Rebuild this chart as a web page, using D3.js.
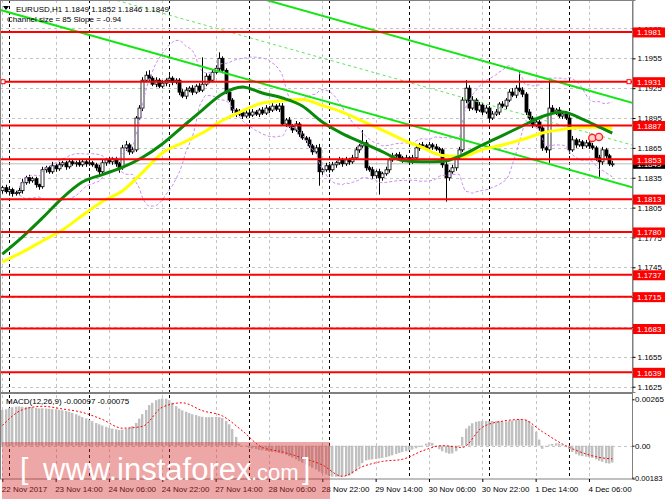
<!DOCTYPE html>
<html>
<head>
<meta charset="utf-8">
<script src="https://cdn.jsdelivr.net/npm/d3@7"></script>
<style>
  body { margin: 0; background: #fff; }
  svg { display: block; }
  text { font-family: "Liberation Sans", Arial, sans-serif; }
</style>
</head>
<body>
<svg id="chart" width="665" height="499"></svg>
<script>
// EURUSD H1, 22 Nov 2017 22:00 .. 4 Dec 2017 13:00 (184 bars)
const firstOpen = 1.1822;
const closes = [
  1.1825, 1.1821, 1.1823, 1.1819, 1.1820, 1.1822, 1.1830, 1.1835, 1.1832, 1.1834,
  1.1828, 1.1826, 1.1843, 1.1845, 1.1841, 1.1847, 1.1844, 1.1848, 1.1850, 1.1846,
  1.1851, 1.1849, 1.1850, 1.1848, 1.1851, 1.1849, 1.1850, 1.1848, 1.1845, 1.1841,
  1.1850, 1.1853, 1.1851, 1.1854, 1.1849, 1.1845, 1.1865, 1.1868, 1.1861, 1.1863,
  1.1895, 1.1905, 1.1933, 1.1938, 1.1935, 1.1929, 1.1933, 1.1927, 1.1930, 1.1933,
  1.1935, 1.1931, 1.1933, 1.1921, 1.1917, 1.1923, 1.1925, 1.1921, 1.1927, 1.1923,
  1.1929, 1.1937, 1.1933, 1.1941, 1.1945, 1.1955, 1.1943, 1.1921, 1.1913, 1.1903,
  1.1899, 1.1901, 1.1897, 1.1900, 1.1898, 1.1901, 1.1899, 1.1903, 1.1900, 1.1905,
  1.1903, 1.1907, 1.1904, 1.1907, 1.1889, 1.1893, 1.1887, 1.1883, 1.1889, 1.1879,
  1.1875, 1.1873, 1.1867, 1.1861, 1.1865, 1.1841, 1.1843, 1.1847, 1.1843, 1.1848,
  1.1850, 1.1853, 1.1849, 1.1853, 1.1851, 1.1855, 1.1863, 1.1867, 1.1870, 1.1845,
  1.1843, 1.1837, 1.1841, 1.1835, 1.1839, 1.1843, 1.1853, 1.1857, 1.1858, 1.1855,
  1.1853, 1.1855, 1.1851, 1.1855, 1.1865, 1.1868, 1.1867, 1.1865, 1.1868, 1.1866,
  1.1864, 1.1863, 1.1848, 1.1835, 1.1841, 1.1845, 1.1855, 1.1863, 1.1913, 1.1925,
  1.1905, 1.1913, 1.1903, 1.1908, 1.1901, 1.1905, 1.1895, 1.1899, 1.1901, 1.1909,
  1.1907, 1.1913, 1.1921, 1.1918, 1.1925, 1.1923, 1.1919, 1.1901, 1.1895, 1.1888,
  1.1891, 1.1885, 1.1865, 1.1863, 1.1905, 1.1901, 1.1903, 1.1897, 1.1899, 1.1895,
  1.1863, 1.1873, 1.1868, 1.1871, 1.1867, 1.1870, 1.1867, 1.1865, 1.1855, 1.1851,
  1.1863, 1.1857, 1.1849, 1.1849
];
// wick lengths in pips above the body top / below the body bottom
const upWick = [
  2,3,1,2,2,3,4,2,3,2, 2,1,3,2,2,4,2,3,2,2, 3,2,2,3,2,2,3,2,2,3, 3,2,3,2,2,2,3,4,2,3,
  2,3,3,4,5,2,3,2,3,2, 3,2,2,2,3,3,2,3,2,3, 27,3,2,3,3,6,2,2,3,2, 2,3,2,3,2,3,2,2,3,3,
  2,3,2,3,3,2,3,2,3,2, 3,2,3,2,3,4,2,3,2,3, 2,3,2,3,2,3,3,2,13,3, 2,3,2,3,2,3,2,3,2,3,
  2,3,2,3,3,2,3,2,3,2, 3,2,2,3,2,3,2,3,3,8, 3,4,2,3,2,3,2,3,3,2, 3,2,3,4,3,16,3,2,3,2,
  3,2,3,2,28,3,2,3,2,3, 3,4,2,3,2,3,2,3,2,3, 3,2,2,3
];
const downWick = [
  3,2,4,3,2,2,3,2,3,2, 3,3,2,3,2,2,3,2,2,3, 2,2,3,2,2,3,2,2,3,4, 2,3,2,3,3,5,2,3,3,2,
  2,2,3,2,3,2,3,2,2,3, 2,3,2,3,2,3,2,3,2,2, 2,2,3,2,2,3,3,2,2,3, 3,2,3,2,3,2,2,3,2,2,
  3,2,2,3,2,3,2,3,2,3, 2,3,2,3,2,14,3,2,3,2, 3,2,3,2,3,2,2,3,2,3, 2,3,3,17,3,2,3,2,3,2,
  3,2,3,2,2,3,2,3,2,3, 2,3,3,24,3,2,3,2,2,3, 3,2,3,2,3,2,3,2,2,3, 2,3,2,2,3,2,3,3,2,3,
  2,3,3,3,13,2,3,2,3,2, 4,2,3,2,3,2,3,2,3,15, 3,3,2,3
];

// moving averages read every 6 bars (bars 0,6,...,180 and 183)
const maStep = 6;
const maGreen = [
  1.17583, 1.17754, 1.17945, 1.18146, 1.18307, 1.18382, 1.18453, 1.18553, 1.18689, 1.18860,
  1.19030, 1.19191, 1.19262, 1.19201, 1.19151, 1.19071, 1.18910, 1.18794, 1.18704, 1.18613,
  1.18523, 1.18511, 1.18513, 1.18578, 1.18679, 1.18774, 1.18870, 1.18965, 1.19010, 1.18940,
  1.18845, 1.18799
];
const maYellow = [
  1.17503, 1.17603, 1.17714, 1.17824, 1.17970, 1.18111, 1.18216, 1.18402, 1.18598, 1.18699,
  1.18799, 1.18925, 1.19020, 1.19101, 1.19123, 1.19136, 1.19076, 1.19010, 1.18920, 1.18829,
  1.18734, 1.18654, 1.18573, 1.18563, 1.18633, 1.18679, 1.18734, 1.18799, 1.18836, 1.18857,
  1.18857, 1.18845
];

// MACD(12,26,9) histogram, units of 0.00001
const macdHist = [
  204,208,215,220,223,224,222,222,221,220, 216,213,214,212,211,209,208,205,202,198,
  193,187,180,172,163,156,148,140,130,122, 115,108,101,97,93,90,92,96,102,112,
  130,155,180,204,232,245,260,266,270,268, 260,245,226,212,202,194,186,180,175,168,
  165,163,163,164,165,163,158,142,122,95, 50,12,-2,-6,-12,-16,-20,-24,-26,-30,
  -33,-36,-39,-42,-46,-52,-60,-68,-78,-88, -98,-108,-117,-127,-136,-148,-157,-165,-172,-177,
  -178,-177,-176,-174,-171,-160,-146,-120,-100,-84, -80,-78,-76,-73,-70,-66,-61,-55,-48,-42,
  -36,-32,-27,-22,-15,-8,2,12,20,16, 2,-20,-32,-40,-46,-44,-32,4,50,98,
  114,128,137,140,141,141,140,141,140,140, 139,138,141,144,147,151,151,148,140,115,
  80,35,-18,-8,6,10,14,12,6,0, -20,-36,-48,-56,-60,-63,-65,-70,-78,-86,
  -92,-100,-102,-97
];
// signal line read every 6 bars
const macdSignal = [
  0.00115, 0.00205, 0.00225, 0.0021, 0.0019, 0.0015, 0.0010, 0.0011, 0.0022, 0.00245,
  0.0020, 0.0017, 0.00085, -0.0001, -0.00035, -0.0007, -0.0011, -0.00175, -0.0012, -0.0009,
  -0.00078, -0.0003, 0.0, -0.0001, 0.00105, 0.0014, 0.0015, 0.0008, 0.0001, -0.0004,
  -0.0007, -0.00075
];

// equidistant channel, lower line anchored at bar 0, slope in price per bar
const channelStart = 1.2003;
const channelSlope = -0.000094;
const channelSize = 0.0085;

const levels = [1.1981, 1.1931, 1.1887, 1.1853, 1.1813, 1.1780, 1.1737, 1.1715, 1.1683, 1.1639];
const selectedLevel = 1.1931;
const lastPrice = 1.1849;
const priceTicks = [1.1985, 1.1955, 1.1925, 1.1895, 1.1865, 1.1835, 1.1805, 1.1775, 1.1745, 1.1715, 1.1685, 1.1655, 1.1625];
const macdTicks = [0.00265, 0, -0.00183];
const macdTickLabels = ['0.00265', '0.00', '-0.00183'];
const timeLabels = ['22 Nov 2017', '23 Nov 14:00', '24 Nov 06:00', '24 Nov 22:00', '27 Nov 14:00', '28 Nov 06:00',
  '28 Nov 22:00', '29 Nov 14:00', '30 Nov 06:00', '30 Nov 22:00', '1 Dec 14:00', '4 Dec 06:00'];
const labelEvery = 16;
const dayStarts = [2, 26, 50, 74, 98, 122, 146, 170];
const alertMarks = [[177, 1.1875], [179, 1.1876]];

function drawChart() {
  const svg = d3.select('svg#chart');
  const plotRight = 632;
  const mainBottom = 392;
  const macdTop = 395;
  const macdBottom = 479;

  const x = d3.scaleLinear().domain([0, 183]).range([2.3, 612.3]);
  const y = d3.scaleLinear().domain([1.16197, 1.20136]).range([mainBottom, 0]);
  const ym = d3.scaleLinear().domain([-0.00183, 0.00265]).range([477.7, 399.3]);
  const pip = 0.0001;

  const defs = svg.append('defs');
  defs.append('clipPath').attr('id', 'clipMain')
    .append('rect').attr('x', 0).attr('y', 0).attr('width', plotRight).attr('height', mainBottom);
  defs.append('clipPath').attr('id', 'clipMacd')
    .append('rect').attr('x', 0).attr('y', macdTop).attr('width', plotRight).attr('height', macdBottom - macdTop);

  const labelBars = timeLabels.map((d, i) => i * labelEvery);

  // grid
  const grid = svg.append('g');
  grid.selectAll('line.hg').data(priceTicks).enter().append('line')
    .attr('x1', 0).attr('x2', plotRight)
    .attr('y1', (d) => Math.round(y(d)) + 0.5).attr('y2', (d) => Math.round(y(d)) + 0.5)
    .attr('stroke', '#c4c4c4').attr('stroke-dasharray', '3,3');
  grid.append('line')
    .attr('x1', 0).attr('x2', plotRight)
    .attr('y1', Math.round(ym(0)) + 0.5).attr('y2', Math.round(ym(0)) + 0.5)
    .attr('stroke', '#c4c4c4').attr('stroke-dasharray', '3,3');
  [[0, mainBottom], [macdTop, macdBottom]].forEach(([a, b]) => {
    grid.selectAll(null).data(labelBars).enter().append('line')
      .attr('x1', (d) => Math.round(x(d)) + 0.5).attr('x2', (d) => Math.round(x(d)) + 0.5)
      .attr('y1', a).attr('y2', b)
      .attr('stroke', '#c4c4c4').attr('stroke-dasharray', '3,3');
    grid.selectAll(null).data(dayStarts).enter().append('line')
      .attr('x1', (d) => Math.round(x(d)) + 0.5).attr('x2', (d) => Math.round(x(d)) + 0.5)
      .attr('y1', a).attr('y2', b)
      .attr('stroke', '#000').attr('stroke-dasharray', '3,3');
  });

  const main = svg.append('g').attr('clip-path', 'url(#clipMain)');

  // bid line
  main.append('line')
    .attr('x1', 0).attr('x2', plotRight)
    .attr('y1', y(lastPrice)).attr('y2', y(lastPrice))
    .attr('stroke', '#bdbdbd');

  // candles
  const bars = closes.map((c, i) => {
    const o = i === 0 ? firstOpen : closes[i - 1];
    return {
      i: i, o: o, c: c,
      h: Math.max(o, c) + upWick[i] * pip,
      l: Math.min(o, c) - downWick[i] * pip,
    };
  });
  const candle = main.selectAll('g.candle').data(bars).enter().append('g');
  candle.append('line')
    .attr('x1', (d) => Math.round(x(d.i)) + 0.5).attr('x2', (d) => Math.round(x(d.i)) + 0.5)
    .attr('y1', (d) => y(d.h)).attr('y2', (d) => y(d.l))
    .attr('stroke', '#000');
  candle.append('rect')
    .attr('x', (d) => Math.round(x(d.i)) - 1)
    .attr('y', (d) => y(Math.max(d.o, d.c)))
    .attr('width', 3)
    .attr('height', (d) => Math.max(1, Math.abs(y(d.o) - y(d.c))))
    .attr('fill', (d) => (d.c >= d.o ? '#fff' : '#000'))
    .attr('stroke', '#000').attr('stroke-width', 0.8);

  // bollinger bands (20, 2) from closes
  const bands = closes.map((c, i) => {
    const win = closes.slice(Math.max(0, i - 19), i + 1);
    const m = d3.mean(win);
    const sd = Math.sqrt(d3.mean(win, (v) => (v - m) * (v - m)));
    return {i: i, up: m + 2 * sd, dn: m - 2 * sd};
  }).filter((d) => d.i >= 5);
  ['up', 'dn'].forEach((k) => {
    main.append('path').datum(bands)
      .attr('d', d3.line().x((d) => x(d.i)).y((d) => y(d[k])).curve(d3.curveMonotoneX))
      .attr('fill', 'none').attr('stroke', '#c88cf2').attr('stroke-width', 1)
      .attr('stroke-dasharray', '3,2');
  });

  // channel
  const chan = (off) => [-2, 190].map((b) => ({b: b, p: channelStart + channelSlope * b + off}));
  const chanLine = d3.line().x((d) => x(d.b)).y((d) => y(d.p));
  main.append('path').datum(chan(0)).attr('d', chanLine)
    .attr('stroke', '#14e614').attr('stroke-width', 2).attr('fill', 'none');
  main.append('path').datum(chan(channelSize)).attr('d', chanLine)
    .attr('stroke', '#14e614').attr('stroke-width', 2).attr('fill', 'none');
  main.append('path').datum(chan(channelSize / 2)).attr('d', chanLine)
    .attr('stroke', '#5ee65e').attr('stroke-width', 1).attr('stroke-dasharray', '3,3').attr('fill', 'none');

  // moving averages
  const maBar = (i, arr) => (i === arr.length - 1 ? 183 : i * maStep);
  const maLine = (arr) => d3.line().x((d, i) => x(maBar(i, arr))).y((d) => y(d)).curve(d3.curveMonotoneX)(arr);
  main.append('path').attr('d', maLine(maYellow))
    .attr('fill', 'none').attr('stroke', '#ffff00').attr('stroke-width', 3);
  main.append('path').attr('d', maLine(maGreen))
    .attr('fill', 'none').attr('stroke', '#0a8a0a').attr('stroke-width', 3);

  // horizontal levels
  main.selectAll('line.lvl').data(levels).enter().append('line')
    .attr('x1', 0).attr('x2', plotRight)
    .attr('y1', (d) => y(d) - 0.5).attr('y2', (d) => y(d) - 0.5)
    .attr('stroke', '#ff0000').attr('stroke-width', 2);
  [3, plotRight - 3].forEach((px) => {
    svg.append('rect').attr('x', px - 2).attr('y', y(selectedLevel) - 2.5)
      .attr('width', 4).attr('height', 4)
      .attr('fill', '#fff').attr('stroke', '#ff0000');
  });

  // alert marks
  main.selectAll('circle.alert').data(alertMarks).enter().append('circle')
    .attr('cx', (d) => x(d[0])).attr('cy', (d) => y(d[1])).attr('r', 3.6)
    .attr('fill', '#ffd0d0').attr('stroke', '#ff2020').attr('stroke-width', 1.4);

  // MACD panel
  const macd = svg.append('g').attr('clip-path', 'url(#clipMacd)');
  macd.selectAll('rect').data(macdHist).enter().append('rect')
    .attr('x', (d, i) => Math.round(x(i)) - 1)
    .attr('y', (d) => ym(Math.max(0, d * 1e-5)))
    .attr('width', 2.4)
    .attr('height', (d) => Math.abs(ym(d * 1e-5) - ym(0)))
    .attr('fill', '#c0c0c0');
  macd.append('path')
    .attr('d', d3.line().x((d, i) => x(maBar(i, macdSignal))).y((d) => ym(d)).curve(d3.curveMonotoneX)(macdSignal))
    .attr('fill', 'none').attr('stroke', '#ff0000').attr('stroke-width', 1).attr('stroke-dasharray', '2,2');

  // frames
  svg.append('rect').attr('x', 0.5).attr('y', 0.5).attr('width', plotRight).attr('height', mainBottom)
    .attr('fill', 'none').attr('stroke', '#808080');
  svg.append('rect').attr('x', 0.5).attr('y', macdTop - 1.5).attr('width', plotRight).attr('height', macdBottom - macdTop + 1.5)
    .attr('fill', 'none').attr('stroke', '#808080');

  // axes
  const fontSize = '8px';
  const pAxis = svg.append('g').attr('transform', `translate(${plotRight + 0.5},0)`)
    .call(d3.axisRight(y).tickValues(priceTicks).tickSize(3).tickPadding(2).tickFormat(d3.format('.4f')));
  const mAxis = svg.append('g').attr('transform', `translate(${plotRight + 0.5},0)`)
    .call(d3.axisRight(ym).tickValues(macdTicks).tickSize(2).tickPadding(1).tickFormat((d, i) => macdTickLabels[i]));
  const tAxis = svg.append('g').attr('transform', `translate(0,${macdBottom})`)
    .call(d3.axisBottom(x).tickValues(labelBars).tickSize(3).tickPadding(4).tickFormat((d, i) => timeLabels[i]));
  [pAxis, mAxis, tAxis].forEach((g) => {
    g.select('.domain').attr('stroke', '#808080');
    g.selectAll('.tick line').attr('stroke', '#000');
    g.selectAll('text').attr('font-size', fontSize).attr('fill', '#000')
      .attr('font-family', '"Liberation Sans", Arial, sans-serif');
  });
  tAxis.select('.domain').remove();
  tAxis.selectAll('text').attr('text-anchor', 'start').attr('x', -1);
  mAxis.select('.domain').remove();
  mAxis.selectAll('text').attr('x', (d) => (d < 0 ? 0 : 2.5)).attr('font-size', (d) => (d < 0 ? '7.6px' : fontSize));

  // price boxes on the axis
  const boxes = svg.append('g');
  const box = (p, fill) => {
    boxes.append('rect').attr('x', plotRight + 1).attr('y', y(p) - 5)
      .attr('width', 665 - plotRight).attr('height', 10).attr('fill', fill);
    boxes.append('text').attr('x', plotRight + 5).attr('y', y(p)).attr('dy', '0.35em')
      .attr('font-size', fontSize).attr('fill', '#fff').text(p.toFixed(4));
  };
  box(lastPrice, '#000');
  levels.forEach((p) => box(p, '#ff0000'));

  // header texts
  svg.append('path').attr('d', 'M3,6 L9,6 L6,10 Z').attr('fill', '#000');
  svg.append('text').attr('x', 16).attr('y', 12).attr('font-size', fontSize)
    .text('EURUSD,H1  1.1849 1.1852 1.1846 1.1849');
  svg.append('text').attr('x', 7).attr('y', 22).attr('font-size', fontSize)
    .text('Channel size = 85 Slope = -0.94');
  svg.append('text').attr('x', 6).attr('y', 404).attr('font-size', fontSize)
    .text('MACD(12,26,9) -0.00097 -0.00075');

  // watermark
  const wm = svg.append('g');
  wm.append('rect').attr('x', 2).attr('y', 442).attr('width', 328).attr('height', 57)
    .attr('fill', 'rgb(215,45,45)').attr('fill-opacity', 0.42);
  wm.append('text').attr('x', 20).attr('y', 479).attr('font-size', '30px').attr('fill', '#fff').text('[');
  wm.append('text').attr('x', 43).attr('y', 480).attr('font-size', '31px').attr('fill', '#fff').text('www.instaforex');
  wm.append('text').attr('x', 251).attr('y', 480).attr('font-size', '22px').attr('fill', '#fff').text('.com');
  wm.append('text').attr('x', 302).attr('y', 479).attr('font-size', '30px').attr('fill', '#fff').text(']');
}

window.addEventListener('load', function() {
  drawChart();
});
</script>
</body>
</html>
